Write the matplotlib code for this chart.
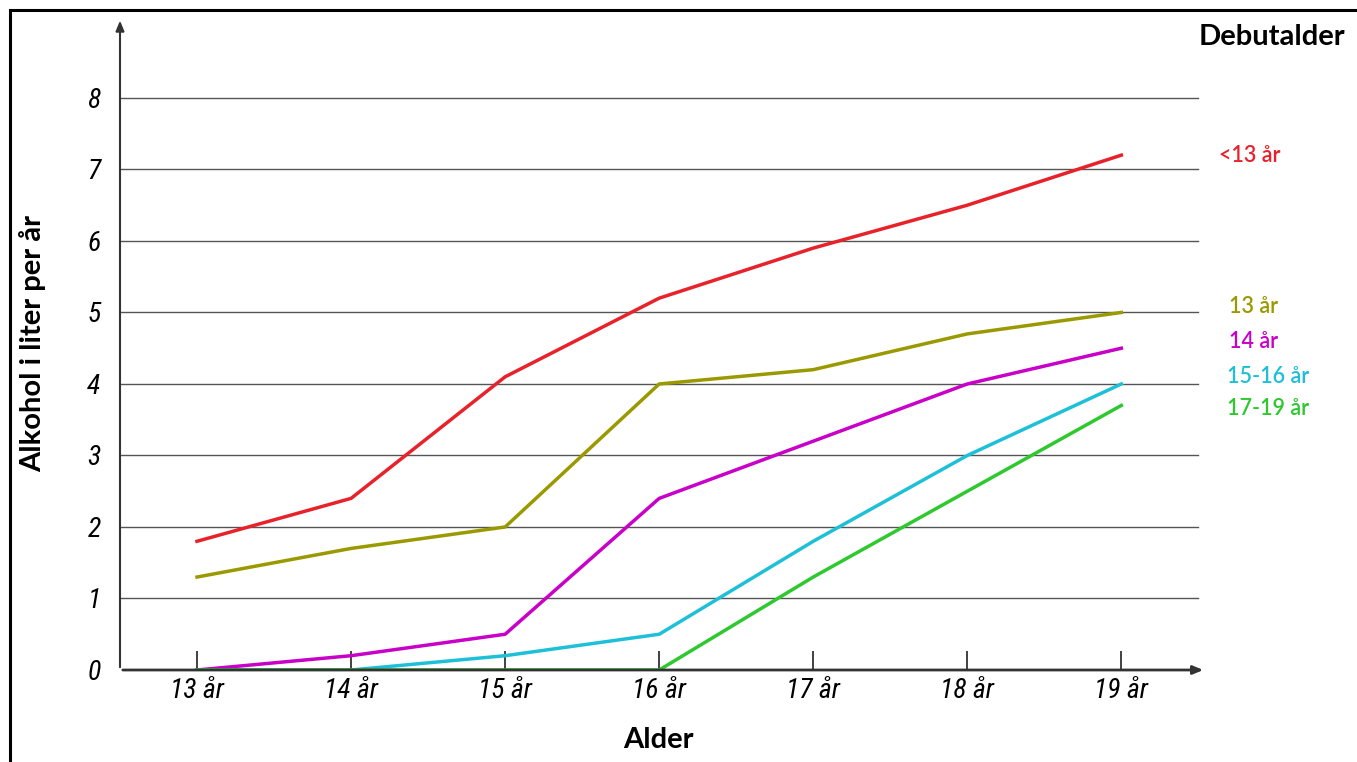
import matplotlib
matplotlib.use("Agg")
import matplotlib.pyplot as plt
from matplotlib.patches import Rectangle
from matplotlib.transforms import blended_transform_factory

categories = ["13 år", "14 år", "15 år", "16 år", "17 år", "18 år", "19 år"]
series_names = ["<13 år", "13 år", "14 år", "15-16 år", "17-19 år"]
s_lt13 = [1.8, 2.4, 4.1, 5.2, 5.9, 6.5, 7.2]
s_13 = [1.3, 1.7, 2.0, 4.0, 4.2, 4.7, 5.0]
s_14 = [0.0, 0.2, 0.5, 2.4, 3.2, 4.0, 4.5]
s_1516 = [0.0, 0.0, 0.2, 0.5, 1.8, 3.0, 4.0]
s_1719 = [0.0, 0.0, 0.0, 0.0, 1.3, 2.5, 3.7]
yticks = [0, 1, 2, 3, 4, 5, 6, 7, 8]

colors = ["#e8222a", "#9a9a00", "#c800c8", "#1ec0d8", "#2ec92e"]
label_y = [7.2, 5.08, 4.59, 4.1, 3.66]

W, H = 1357, 762
fig = plt.figure(figsize=(W / 100, H / 100), dpi=100)
fig.patches.append(Rectangle((10 / W, -0.1), 1.2, (H - 10) / H + 0.1, transform=fig.transFigure,
                             fill=False, edgecolor="black", linewidth=2.2))

ax = fig.add_axes([120 / W, (H - 670) / H, (1203 - 120) / W, (670 - 20) / H])
ax.set_xlim(-0.5, 6.53)
ax.set_ylim(0, 9.09)
for s in ax.spines.values():
    s.set_visible(False)

tick_font = dict(family=["Roboto Condensed", "Liberation Sans Narrow", "Liberation Sans", "DejaVu Sans"],
                 style="italic", size=20)
for y in yticks[1:]:
    ax.plot([-0.5, 6.5], [y, y], color="#555555", linewidth=1, zorder=1)

for vals, c in zip([s_lt13, s_13, s_14, s_1516, s_1719], colors):
    ax.plot(range(len(categories)), vals, color=c, linewidth=2.5, zorder=3)

ax.annotate("", xy=(6.55, 0), xytext=(-0.5, 0),
            arrowprops=dict(arrowstyle="-|>,head_length=0.6,head_width=0.25", color="#333333", lw=2),
            annotation_clip=False, zorder=4)
ax.annotate("", xy=(-0.5, 9.12), xytext=(-0.5, 0),
            arrowprops=dict(arrowstyle="-|>,head_length=0.6,head_width=0.25", color="#333333", lw=1.5),
            annotation_clip=False, zorder=4)

ax.set_xticks(range(len(categories)))
ax.set_xticklabels(categories, fontdict=tick_font)
ax.set_yticks(yticks)
ax.set_yticklabels([str(v) for v in yticks], fontdict=tick_font)
ax.tick_params(axis="x", direction="in", length=14, width=1.3, color="#333333", pad=6)
ax.tick_params(axis="y", length=0, pad=14)

lato_b = dict(fontsize=21, fontweight="bold", family=["Lato", "DejaVu Sans"])
fig.text(658 / W, 1 - 740 / H, "Alder", ha="center", va="center", **lato_b)
fig.text(33 / W, 1 - 343 / H, "Alkohol i liter per år", ha="center", va="center", rotation=90, **lato_b)
fig.text(1345 / W, 1 - 37 / H, "Debutalder", ha="right", va="center", **lato_b)

xs = [1219, 1229, 1229, 1227, 1227]
tr = blended_transform_factory(fig.transFigure, ax.transData)
for name, c, x, ly in zip(series_names, colors, xs, label_y):
    ax.text(x / W, ly, name, transform=tr, color=c, fontsize=15.5, fontweight="semibold",
            family=["Lato", "DejaVu Sans"], ha="left", va="center")

fig.savefig("out.png", dpi=100)
